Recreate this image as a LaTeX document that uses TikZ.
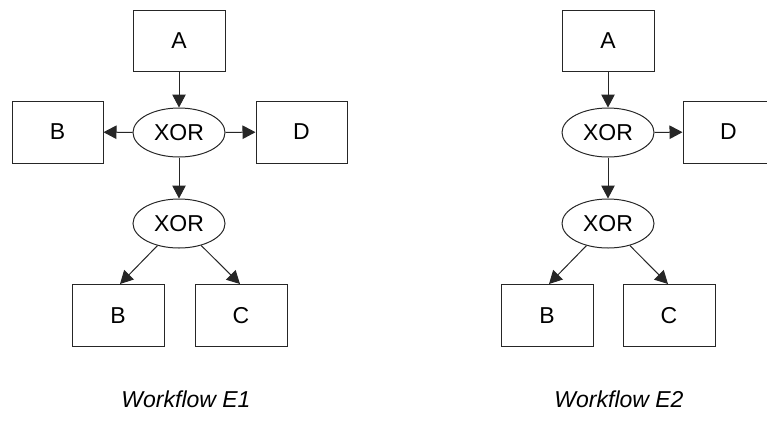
\documentclass[tikz,border=0pt]{standalone}
\usepackage{fontspec}
\setmainfont{Liberation Sans}
\usetikzlibrary{arrows.meta,shapes.geometric}
\begin{document}
\begin{tikzpicture}[x=1pt,y=-1pt,
  box/.style={draw=black!85,line width=1pt,minimum width=92pt,minimum height=61pt,inner sep=0pt,font=\fontsize{23}{27}\selectfont},
  gate/.style={ellipse,draw=black!85,line width=1pt,minimum width=92pt,minimum height=49pt,inner sep=0pt,font=\fontsize{23}{27}\selectfont},
  arr/.style={line width=1pt,draw=black!85,-{Triangle[length=13pt,width=13.5pt]}},
  wflabel/.style={font=\fontsize{23}{27}\selectfont\itshape}]
\useasboundingbox (0,0) rectangle (767,426);
% Workflow E1
\node[box] (a1) at (179,40.5) {A};
\node[gate] (x1) at (179,132.5) {XOR};
\node[box,minimum width=91pt,minimum height=62pt] (b1) at (57.5,132) {B};
\node[box,minimum width=91pt,minimum height=62pt] (d1) at (301.5,132) {D};
\node[gate] (y1) at (179,223.5) {XOR};
\node[box,minimum height=62pt] (bb1) at (118,315.5) {B};
\node[box,minimum height=62pt] (c1) at (241,315.5) {C};
\draw[arr] (a1) -- (x1);
\draw[arr] (x1) -- (b1);
\draw[arr] (x1) -- (d1);
\draw[arr] (x1) -- (y1);
\draw[arr] (y1) -- ([xshift=2pt]bb1.north);
\draw[arr] (y1) -- ([xshift=-1pt]c1.north);
\node[wflabel] (l1) at (186,399) {Workflow E1};
% Workflow E2
\node[box] (a2) at (608,40.5) {A};
\node[gate] (x2) at (608,132.5) {XOR};
\node[box,minimum width=91pt,minimum height=62pt] (d2) at (728.5,132) {D};
\node[gate] (y2) at (608,223.5) {XOR};
\node[box,minimum height=62pt] (bb2) at (547,315.5) {B};
\node[box,minimum height=62pt] (c2) at (669,315.5) {C};
\draw[arr] (a2) -- (x2);
\draw[arr] (x2) -- (d2);
\draw[arr] (x2) -- (y2);
\draw[arr] (y2) -- ([xshift=2pt]bb2.north);
\draw[arr] (y2) -- ([xshift=-1pt]c2.north);
\node[wflabel] (l2) at (619,399) {Workflow E2};
\end{tikzpicture}
\end{document}
